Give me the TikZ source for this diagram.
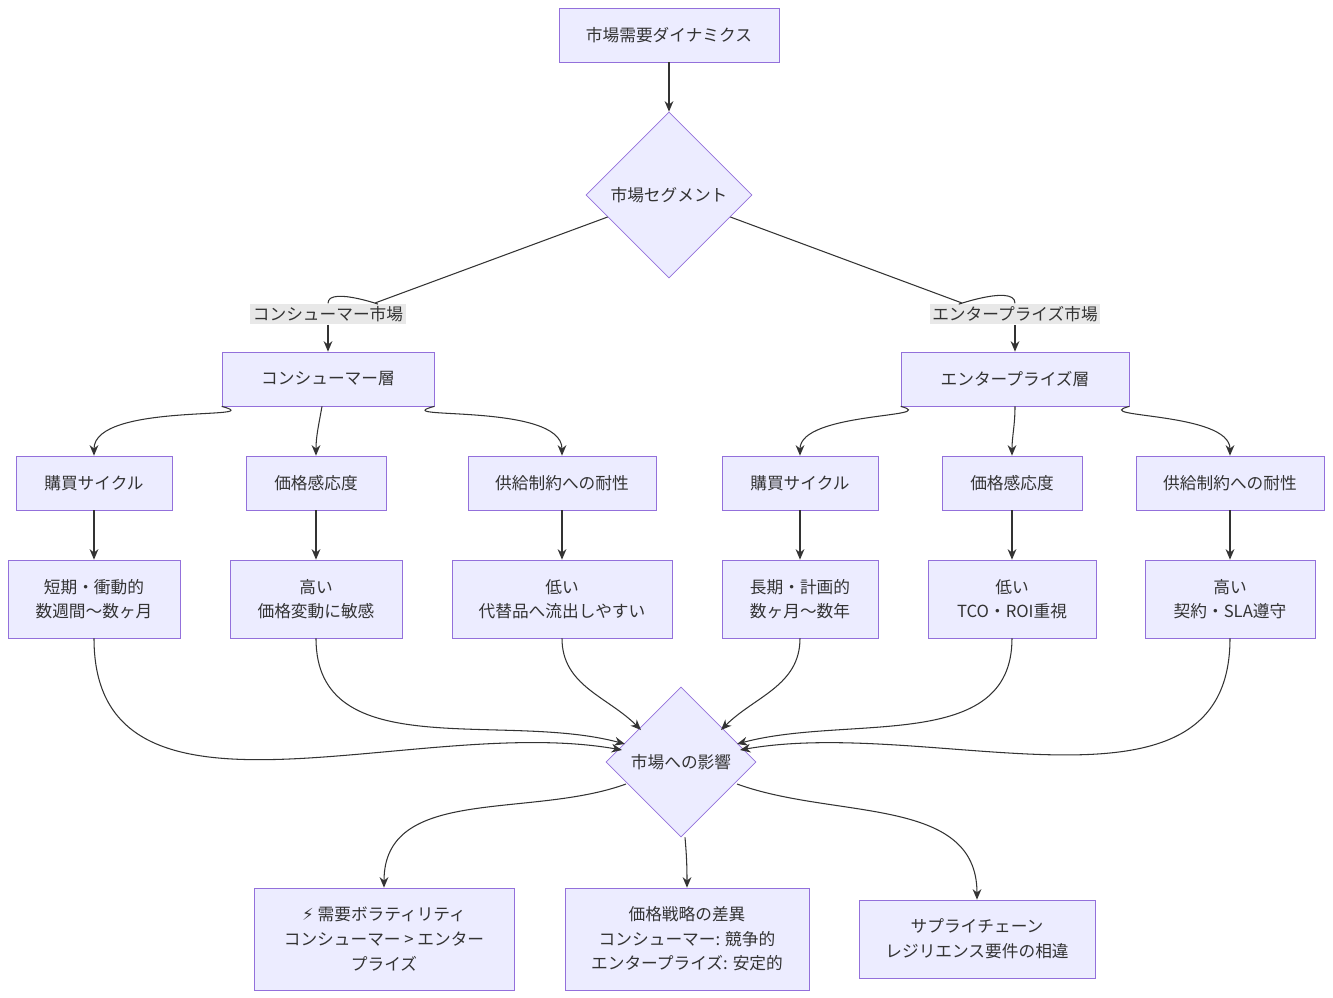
\documentclass[tikz,border=0pt]{standalone}
\usepackage{fontspec}
\setmainfont{Noto Sans CJK JP}
\newfontfamily\symfont{DejaVu Sans}
\usetikzlibrary{shapes.geometric,arrows.meta}
\definecolor{boxfill}{HTML}{ECECFF}
\definecolor{boxline}{HTML}{9370DB}
\definecolor{txt}{HTML}{333333}
\definecolor{lblfill}{HTML}{E8E8E8}
\begin{document}
\begin{tikzpicture}[x=0.02cm, y=-0.02cm,
  every node/.style={font=\fontsize{9.5}{14}\selectfont, text=txt},
  box/.style={draw=boxline, fill=boxfill, rectangle, align=center, inner sep=0pt},
  dia/.style={draw=boxline, fill=boxfill, diamond, aspect=1, inner sep=0pt},
  lbl/.style={fill=lblfill, inner sep=1.5pt},
  link/.style={draw=txt, line width=0.6pt, -{Stealth[length=6pt,width=5pt]}}]
\useasboundingbox (0,0) rectangle (1333,998);
% Top
\node[box, minimum width=220*0.02cm, minimum height=54*0.02cm] (dyn) at (669,35) {市場需要ダイナミクス};
\node[dia, minimum size=166*0.02cm] (seg) at (669,195) {市場セグメント};
\node[lbl] (lcons) at (328,314) {コンシューマー市場};
\node[lbl] (lent) at (1015,314) {エンタープライズ市場};
% Tiers
\node[box, minimum width=212*0.02cm, minimum height=54*0.02cm] (cons) at (328,379) {コンシューマー層};
\node[box, minimum width=228*0.02cm, minimum height=54*0.02cm] (ent) at (1015,379) {エンタープライズ層};
% Attributes
\foreach \n/\x/\w/\t in {c1/94/156/購買サイクル, c2/316/140/価格感応度, c3/562/188/供給制約への耐性,
  e1/800/156/購買サイクル, e2/1012/140/価格感応度, e3/1230/188/供給制約への耐性}
  \node[box, minimum width=\w*0.02cm, minimum height=54*0.02cm] (\n) at (\x,483) {\t};
\foreach \n/\x/\w/\t in {v1/94/172/{短期・衝動的\\数週間～数ヶ月}, v2/316/172/{高い\\価格変動に敏感},
  v3/562/220/{低い\\代替品へ流出しやすい}, w1/800/156/{長期・計画的\\数ヶ月～数年},
  w2/1012/168/{低い\\TCO・ROI重視}, w3/1230/170/{高い\\契約・SLA遵守}}
  \node[box, minimum width=\w*0.02cm, minimum height=78*0.02cm] (\n) at (\x,599) {\t};
% Impact
\node[dia, minimum size=150*0.02cm] (imp) at (681,762) {市場への影響};
\node[box, minimum width=260*0.02cm, minimum height=102*0.02cm] (b1) at (384,939) {{\symfont ⚡} 需要ボラティリティ\\コンシューマー > エンター\\プライズ};
\node[box, minimum width=244*0.02cm, minimum height=102*0.02cm] (b2) at (687,939) {価格戦略の差異\\コンシューマー: 競争的\\エンタープライズ: 安定的};
\node[box, minimum width=236*0.02cm, minimum height=78*0.02cm] (b3) at (977,939) {サプライチェーン\\レジリエンス要件の相違};
% Arrows
\draw[link] (dyn) -- (seg);
\draw[line width=0.6pt, draw=txt] (seg.west) ++(22,22) -- (375,303) to[out=-20,in=90] (lcons.north);
\draw[line width=0.6pt, draw=txt] (seg.east) ++(-22,22) -- (962,303) to[out=-160,in=90] (lent.north);
\draw[link] (lcons.south) to[out=-90,in=90] (cons.north);
\draw[link] (lent.south) to[out=-90,in=90] (ent.north);
\draw[link] (cons.south west) to[out=-15,in=90] (c1.north);
\draw[link] (cons.south) ++(-6,0) to[out=-100,in=90] (c2.north);
\draw[link] (cons.south east) to[out=-165,in=90] (c3.north);
\draw[link] (ent.south west) to[out=-15,in=90] (e1.north);
\draw[link] (ent.south) to[out=-90,in=90] (e2.north);
\draw[link] (ent.south east) to[out=-165,in=90] (e3.north);
\foreach \a/\b in {c1/v1, c2/v2, c3/v3, e1/w1, e2/w2, e3/w3} \draw[link] (\a) -- (\b);
\draw[link] (v1.south) to[out=-90,in=170] (622,750);
\draw[link] (v2.south) to[out=-90,in=165] (625,744);
\draw[link] (v3.south) to[out=-90,in=135] (641,730);
\draw[link] (w1.south) to[out=-90,in=45] (721,730);
\draw[link] (w2.south) to[out=-90,in=15] (737,744);
\draw[link] (w3.south) to[out=-90,in=10] (740,750);
\draw[link] (626,784) to[out=-160,in=90] (b1.north);
\draw[link] (imp.south) ++(4,0) to[out=-85,in=90] (b2.north);
\draw[link] (737,784) to[out=-20,in=90] (b3.north);
\end{tikzpicture}
\end{document}
